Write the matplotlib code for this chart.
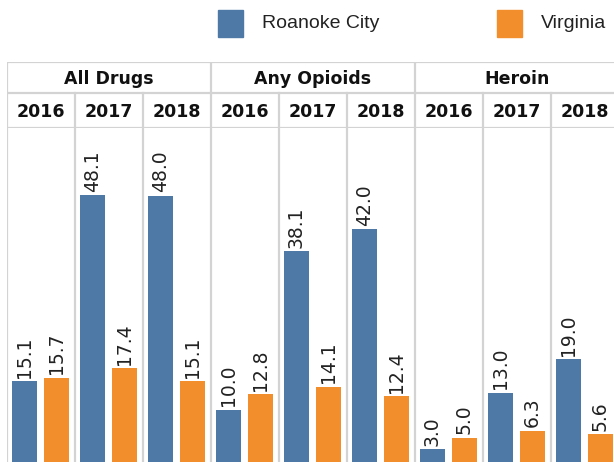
import matplotlib
matplotlib.use("Agg")
import matplotlib.pyplot as plt
from matplotlib.patches import Rectangle

groups = ["All Drugs", "Any Opioids", "Heroin"]
years = ["2016", "2017", "2018"]
roanoke = [15.1, 48.1, 48.0, 10.0, 38.1, 42.0, 3.0, 13.0, 19.0]
virginia = [15.7, 17.4, 15.1, 12.8, 14.1, 12.4, 5.0, 6.3, 5.6]
series = ["Roanoke City", "Virginia"]

BLUE = "#4e79a7"
ORANGE = "#f28e2b"
GRID = "#d3d3d3"

W, H = 614, 462
fig = plt.figure(figsize=(W / 100, H / 100), dpi=100)


def fx(px):
    return px / W


def fy(py):
    # py measured from the top
    return (H - py) / H


# main plot area: x from 7 to 619 px, y from 128 (top) to 466 (baseline)
left, right = 7, 619
top, base = 128, 466
ax = fig.add_axes([fx(left), fy(base), fx(right - left), (base - top) / H])
n = len(roanoke)
ax.set_xlim(0, n)
ax.set_ylim(0, 60)
ax.axis("off")

bw = 0.37
for i in range(n):
    xb = i + 0.257
    xo = i + 0.728
    ax.bar(xb, roanoke[i], width=bw, color=BLUE)
    ax.bar(xo, virginia[i], width=bw, color=ORANGE)
    ax.text(xb, roanoke[i] + 0.6, f"{roanoke[i]:.1f}", rotation=90,
            ha="center", va="bottom", fontsize=13.5, color="#222222")
    ax.text(xo, virginia[i] + 0.6, f"{virginia[i]:.1f}", rotation=90,
            ha="center", va="bottom", fontsize=13.5, color="#222222")

for i in range(n + 1):
    ax.axvline(i, color=GRID, lw=1.6, zorder=0)

# header cells
hdr_top, hdr_mid = 62, 93
hax = fig.add_axes([fx(left), fy(top), fx(right - left), (top - hdr_top) / H])
hax.set_xlim(0, n)
hax.set_ylim(0, top - hdr_top)
hax.invert_yaxis()
hax.axis("off")
mid = hdr_mid - hdr_top
hh = top - hdr_top
for yy in (0, mid, hh):
    hax.axhline(yy, color=GRID, lw=1.6)
for i in range(n + 1):
    if i % 3 == 0:
        hax.plot([i, i], [0, hh], color=GRID, lw=1.6)
    else:
        hax.plot([i, i], [mid, hh], color=GRID, lw=1.6)
for g, name in enumerate(groups):
    hax.text(g * 3 + 1.5, mid / 2 + 1.5, name, ha="center", va="center",
             fontsize=12.5, fontweight="bold", color="#111111")
    for k, yr in enumerate(years):
        hax.text(g * 3 + k + 0.5, (mid + hh) / 2 + 1.5, yr, ha="center",
                 va="center", fontsize=12.5, fontweight="bold", color="#111111")

# legend
for sx, tx, col, label in [(218, 262, BLUE, series[0]), (497, 541, ORANGE, series[1])]:
    fig.patches.append(Rectangle((fx(sx), fy(37)), fx(25), 27 / H,
                                 transform=fig.transFigure, color=col))
    fig.text(fx(tx), fy(23), label, ha="left", va="center", fontsize=14,
             family="Liberation Sans", color="#222222")

fig.savefig("out.png", dpi=100)
